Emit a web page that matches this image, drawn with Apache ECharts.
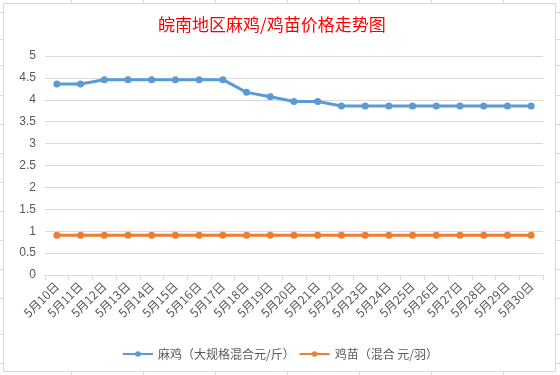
<!DOCTYPE html>
<html>
<head>
<meta charset="utf-8">
<script src="https://cdn.jsdelivr.net/npm/echarts@6/dist/echarts.min.js"></script>
<style>
html,body{margin:0;padding:0;background:#fff;}
#c{width:560px;height:375px;}
</style>
</head>
<body>
<div id="c"></div>
<script>
const titleText = '皖南地区麻鸡/鸡苗价格走势图';
const categories = ['5月10日','5月11日','5月12日','5月13日','5月14日','5月15日','5月16日','5月17日','5月18日','5月19日','5月20日','5月21日','5月22日','5月23日','5月24日','5月25日','5月26日','5月27日','5月28日','5月29日','5月30日'];
const seriesNames = ['麻鸡（大规格混合元/斤）','鸡苗（混合 元/羽）'];
const majiValues = [4.36,4.36,4.46,4.46,4.46,4.46,4.46,4.46,4.17,4.07,3.96,3.96,3.86,3.86,3.86,3.86,3.86,3.86,3.86,3.86,3.86];
const jimiaoValues = [0.91,0.91,0.91,0.91,0.91,0.91,0.91,0.91,0.91,0.91,0.91,0.91,0.91,0.91,0.91,0.91,0.91,0.91,0.91,0.91,0.91];
const yTicks = [0,0.5,1,1.5,2,2.5,3,3.5,4,4.5,5];

const cjk = '"Noto Sans CJK SC", "Noto Sans", sans-serif';
const gray = '#d9d9d9';
const cellGray = '#dadada';

// spreadsheet cell grid ticks outside the chart frame
const deco = [];
[71,143,215,287,359,431,503].forEach(x => {
  deco.push({type:'line', shape:{x1:x+0.5,y1:0,x2:x+0.5,y2:3}, style:{stroke:cellGray,lineWidth:1}, silent:true});
  deco.push({type:'line', shape:{x1:x+0.5,y1:372,x2:x+0.5,y2:375}, style:{stroke:cellGray,lineWidth:1}, silent:true});
});
[12,39,65,95,124,153,182,211,240,269,298,334,363].forEach(y => {
  deco.push({type:'line', shape:{x1:0,y1:y+0.5,x2:3,y2:y+0.5}, style:{stroke:cellGray,lineWidth:1}, silent:true});
  deco.push({type:'line', shape:{x1:556,y1:y+0.5,x2:560,y2:y+0.5}, style:{stroke:cellGray,lineWidth:1}, silent:true});
});
deco.push({type:'rect', shape:{x:3.5,y:3.5,width:552,height:368}, style:{fill:null, stroke:gray, lineWidth:1}, silent:true, z:-1});

const chart = echarts.init(document.getElementById('c'), null, {renderer:'canvas'});
chart.setOption({
  animation:false,
  backgroundColor:'#fff',
  graphic: deco,
  title:{
    text:titleText,
    left:153, top:11,
    textStyle:{color:'#ff0000', fontSize:17, fontWeight:'normal', fontFamily:cjk}
  },
  legend:{
    top:343, left:'center',
    itemWidth:30, itemHeight:7, itemGap:4,
    textStyle:{color:'#595959', fontSize:12, fontFamily:cjk},
    data:seriesNames
  },
  grid:{left:45, right:17, top:56, bottom:100, containLabel:false},
  xAxis:{
    type:'category',
    data:categories,
    boundaryGap:true,
    axisLine:{lineStyle:{color:gray}},
    axisTick:{show:true, length:5, lineStyle:{color:gray}},
    axisLabel:{rotate:45, color:'#595959', fontSize:12, fontFamily:cjk, interval:0, margin:9}
  },
  yAxis:{
    type:'value',
    min:yTicks[0], max:yTicks[yTicks.length-1], interval:yTicks[1]-yTicks[0],
    axisLine:{show:false},
    axisTick:{show:false},
    axisLabel:{color:'#595959', fontSize:12, fontFamily:'"Liberation Sans", sans-serif', margin:9},
    splitLine:{lineStyle:{color:gray}}
  },
  series:[
    {name:seriesNames[0], type:'line', data:majiValues, color:'#5b9bd5',
     symbol:'circle', symbolSize:7, lineStyle:{width:3}},
    {name:seriesNames[1], type:'line', data:jimiaoValues, color:'#ed7d31',
     symbol:'circle', symbolSize:7, lineStyle:{width:3}}
  ]
});
</script>
</body>
</html>
